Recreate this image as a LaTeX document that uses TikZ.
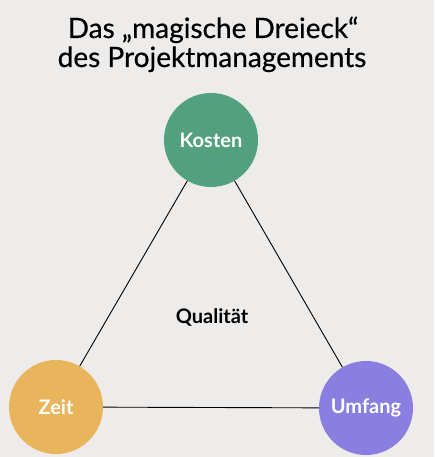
\documentclass[tikz,border=0pt]{standalone}
\usepackage{fontspec}
\setmainfont{Lato}
\newfontfamily\titlefont[FakeBold=0.6]{Lato}
\definecolor{bg}{HTML}{EEECEA}
\definecolor{kgreen}{HTML}{52A07E}
\definecolor{zyellow}{HTML}{E8B55C}
\definecolor{upurple}{HTML}{8A7EE0}
\begin{document}
\begin{tikzpicture}[x=1pt,y=-1pt,
  corner/.style={circle, minimum size=94pt, inner sep=0pt, text=white, font=\bfseries\fontsize{20}{24}\selectfont},
  titletext/.style={font=\titlefont\fontsize{28}{32}\selectfont, anchor=base, inner sep=0pt},
  edge/.style={draw=black, line width=0.9pt}]
\fill[bg] (0,0) rectangle (434,457);
\useasboundingbox (0,0) rectangle (434,457);
\node[titletext] (title1) at (213,38) {Das „magische Dreieck“};
\node[titletext] (title2) at (212,67) {des Projektmanagements};
\node[corner, fill=kgreen] (k) at (211,140) {Kosten};
\node[corner, fill=zyellow] (z) at (56,407) {Zeit};
\node[corner, fill=upurple] (u) at (366,408) {Umfang};
\draw[edge] (k) -- (z);
\draw[edge] (k) -- (u);
\draw[edge] (z) -- (u);
\node[font=\bfseries\fontsize{20}{24}\selectfont, anchor=base] (q) at (212,323) {Qualität};
\end{tikzpicture}
\end{document}
